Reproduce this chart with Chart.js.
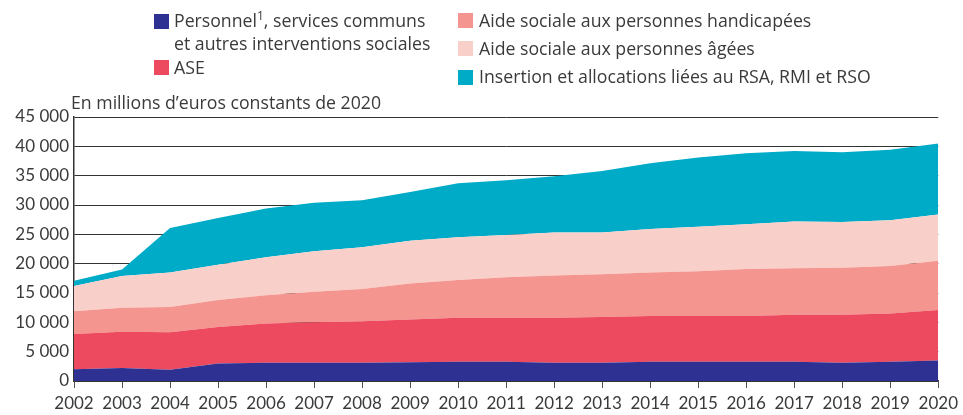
<!DOCTYPE html>
<html>
<head>
    <title>Dépenses d'aide sociale</title>
    <meta charset="utf-8" />
    <script src="https://cdn.jsdelivr.net/npm/chart.js"></script>
    <style>
        body { margin: 0; background: #fff; }
        .wrap { position: relative; width: 963px; height: 415px; font-family: "Open Sans", Lato, sans-serif; color: #3a3a3a; }
        .legend { position: absolute; top: 0; left: 0; width: 963px; height: 95px; font-size: 17.7px; }
        .item { position: absolute; line-height: 23px; white-space: nowrap; }
        .box { position: absolute; width: 15px; height: 15px; }
        canvas { position: absolute; top: 0; left: 0; }
    </style>
</head>
<body>
<div class="wrap">
    <canvas id="areaChart" width="963" height="415"></canvas>
    <!-- Légende -->
    <div class="legend">
        <div class="box" style="left:154px; top:14px; background:#2e3192"></div>
        <div class="item" style="left:174px; top:9px">Personnel<sup style="font-size:12px; line-height:0">1</sup>, services communs<br/>et autres interventions sociales</div>
        <div class="box" style="left:154px; top:60px; background:#ed4a5f"></div>
        <div class="item" style="left:174px; top:56px">ASE</div>
        <div class="box" style="left:458px; top:13px; background:#f4958f"></div>
        <div class="item" style="left:479px; top:9px">Aide sociale aux personnes handicapées</div>
        <div class="box" style="left:458px; top:41px; background:#f9cfc9"></div>
        <div class="item" style="left:479px; top:37px">Aide sociale aux personnes âgées</div>
        <div class="box" style="left:458px; top:70px; background:#00abc8"></div>
        <div class="item" style="left:479px; top:65px">Insertion et allocations liées au RSA, RMI et RSO</div>
    </div>
</div>

<script>
    // données (millions d'euros constants de 2020)
    const years = ['2002', '2003', '2004', '2005', '2006', '2007', '2008', '2009', '2010', '2011',
                   '2012', '2013', '2014', '2015', '2016', '2017', '2018', '2019', '2020'];
    const personnel = [2000, 2200, 1900, 3000, 3100, 3100, 3100, 3200, 3300, 3300,
                       3100, 3100, 3300, 3300, 3300, 3300, 3100, 3300, 3500];
    const ase = [6000, 6200, 6400, 6200, 6700, 6900, 7100, 7300, 7500, 7500,
                 7700, 7800, 7800, 7800, 7800, 8000, 8200, 8200, 8600];
    const handicap = [3900, 4100, 4300, 4600, 4800, 5200, 5500, 6100, 6400, 6900,
                      7200, 7300, 7400, 7600, 8000, 7900, 8000, 8100, 8400];
    const agees = [4300, 5400, 5900, 6000, 6500, 6900, 7100, 7300, 7300, 7200,
                   7300, 7100, 7400, 7600, 7600, 8000, 7800, 7800, 7900];
    const insertion = [900, 1100, 7600, 8000, 8300, 8300, 8000, 8300, 9200, 9300,
                       9600, 10500, 11200, 11800, 12100, 12000, 11900, 12000, 12100];
    const yTicks = [0, 5000, 10000, 15000, 20000, 25000, 30000, 35000, 40000, 45000];

    function serie(label, data, color, fill) {
        return { label: label, data: data, backgroundColor: color, borderWidth: 0,
                 pointRadius: 0, fill: fill, tension: 0 };
    }

    // titre de l'axe y
    const yTitle = {
        id: 'yTitle',
        afterDraw(chart) {
            const c = chart.ctx;
            c.save();
            c.font = '17.7px "Open Sans"';
            c.fillStyle = '#3a3a3a';
            c.textBaseline = 'middle';
            c.fillText('En millions d\u2019euros constants de 2020', 71, 104);
            c.restore();
        }
    };

    const ctx = document.getElementById('areaChart').getContext('2d');
    const areaChart = new Chart(ctx, {
        type: 'line',
        data: {
            labels: years,
            datasets: [
                serie('Personnel, services communs et autres interventions sociales', personnel, '#2e3192', 'origin'),
                serie('ASE', ase, '#ed4a5f', '-1'),
                serie('Aide sociale aux personnes handicapées', handicap, '#f4958f', '-1'),
                serie('Aide sociale aux personnes âgées', agees, '#f9cfc9', '-1'),
                serie('Insertion et allocations liées au RSA, RMI et RSO', insertion, '#00abc8', '-1')
            ]
        },
        options: {
            responsive: false,
            animation: false,
            layout: { padding: { top: 117, right: 21, left: 0, bottom: 0 } },
            plugins: { legend: { display: false }, tooltip: { enabled: false } },
            scales: {
                x: {
                    offset: false,
                    grid: { drawOnChartArea: false, drawTicks: true, tickLength: 7, color: '#555' },
                    border: { color: '#333', width: 1.5 },
                    ticks: { color: '#3a3a3a', font: { family: 'Lato', size: 17 }, maxRotation: 0, autoSkip: false, padding: 5 },
                    afterFit(scale) { scale.height = 34; }
                },
                y: {
                    stacked: true,
                    min: 0,
                    max: 45000,
                    afterBuildTicks(scale) { scale.ticks = yTicks.map(v => ({ value: v })); },
                    grid: { color: '#333', lineWidth: 1, drawTicks: false },
                    border: { color: '#333', width: 1.5 },
                    ticks: {
                        color: '#3a3a3a', font: { family: 'Lato', size: 17 }, padding: 5,
                        callback: v => String(v).replace(/\B(?=(\d{3})+(?!\d))/g, ' ')
                    },
                    afterFit(scale) { scale.width = 74; }
                }
            }
        },
        plugins: [yTitle]
    });
</script>
</body>
</html>
